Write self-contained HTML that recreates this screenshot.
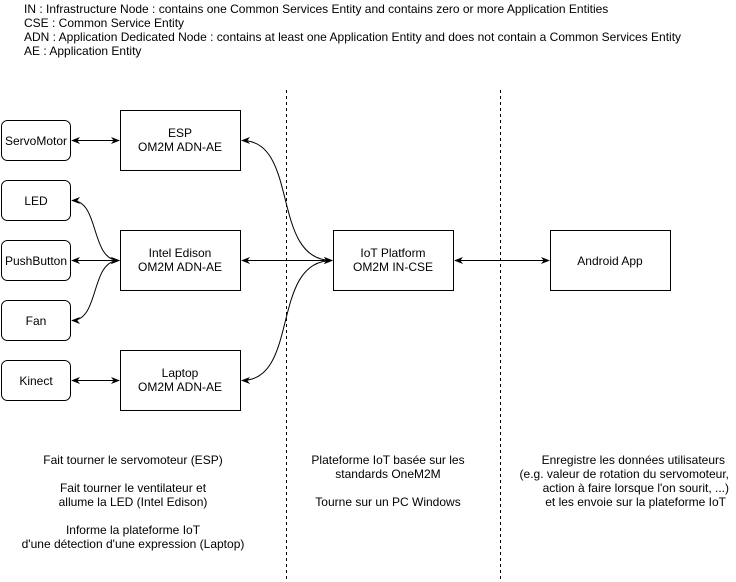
<!DOCTYPE html>
<html><head><meta charset="utf-8"><style>
html,body{margin:0;padding:0;background:#fff;}
svg{display:block;font-family:"Liberation Sans",Arial,sans-serif;font-size:12px;}
</style></head><body>
<svg width="736" height="582" viewBox="0 0 736 582" xmlns="http://www.w3.org/2000/svg">
<defs>
<marker id="a" viewBox="0 0 10 10" refX="9" refY="5" markerWidth="9" markerHeight="9" orient="auto-start-reverse" markerUnits="userSpaceOnUse">
<path d="M0,1 L10,5 L0,9 L3,5 Z" fill="#000"/></marker>
</defs>
<g fill="#000">
<text x="24" y="13">IN : Infrastructure Node : contains one Common Services Entity and contains zero or more Application Entities</text>
<text x="24" y="27">CSE : Common Service Entity</text>
<text x="24" y="41">ADN : Application Dedicated Node : contains at least one Application Entity and does not contain a Common Services Entity</text>
<text x="24" y="55">AE : Application Entity</text>
</g>
<g stroke="#000" stroke-dasharray="3,3" stroke-width="1">
<line x1="286.5" y1="90" x2="286.5" y2="582"/>
<line x1="500.5" y1="90" x2="500.5" y2="582"/>
</g>
<g fill="#fff" stroke="#000" stroke-width="1">
<rect x="1.5" y="120.5" width="69" height="40" rx="6"/>
<rect x="1.5" y="180.5" width="69" height="40" rx="6"/>
<rect x="1.5" y="240.5" width="69" height="40" rx="6"/>
<rect x="1.5" y="300.5" width="69" height="40" rx="6"/>
<rect x="1.5" y="360.5" width="69" height="40" rx="6"/>
<rect x="120.5" y="110.5" width="120" height="60"/>
<rect x="120.5" y="230.5" width="120" height="60"/>
<rect x="120.5" y="350.5" width="120" height="60"/>
<rect x="333.5" y="230.5" width="120" height="60"/>
<rect x="550.5" y="230.5" width="120" height="60"/>
</g>
<g fill="none" stroke="#000" stroke-width="1" marker-start="url(#a)" marker-end="url(#a)">
<line x1="72" y1="140.5" x2="119" y2="140.5"/>
<line x1="72" y1="380.5" x2="119" y2="380.5"/>
<line x1="72" y1="260.5" x2="119" y2="260.5"/>
<path d="M72,200.5 C100,200.5 90,260.5 119,260.5"/>
<path d="M72,320.5 C100,320.5 90,260.5 119,260.5"/>
<line x1="242" y1="260.5" x2="332" y2="260.5"/>
<path d="M242,140.5 C300,140.5 270,260.5 332,260.5"/>
<path d="M242,380.5 C300,380.5 270,260.5 332,260.5"/>
<line x1="455" y1="260.5" x2="549" y2="260.5"/>
</g>
<g fill="#000" text-anchor="middle">
<text x="36" y="145">ServoMotor</text>
<text x="36" y="205">LED</text>
<text x="36" y="265">PushButton</text>
<text x="36" y="325">Fan</text>
<text x="36" y="385">Kinect</text>
<text x="180" y="137">ESP</text><text x="180" y="151">OM2M ADN-AE</text>
<text x="180" y="257">Intel Edison</text><text x="180" y="271">OM2M ADN-AE</text>
<text x="180" y="377">Laptop</text><text x="180" y="391">OM2M ADN-AE</text>
<text x="393" y="257">IoT Platform</text><text x="393" y="271">OM2M IN-CSE</text>
<text x="610" y="265">Android App</text>
<text x="133" y="464">Fait tourner le servomoteur (ESP)</text>
<text x="133" y="492">Fait tourner le ventilateur et</text>
<text x="133" y="506">allume la LED (Intel Edison)</text>
<text x="133" y="534">Informe la plateforme IoT</text>
<text x="133" y="548">d'une détection d'une expression (Laptop)</text>
<text x="388" y="464">Plateforme IoT basée sur les</text>
<text x="388" y="478">standards OneM2M</text>
<text x="388" y="506">Tourne sur un PC Windows</text>
</g>
<g fill="#000" text-anchor="end">
<text x="725" y="464">Enregistre les données utilisateurs</text>
<text x="729" y="478">(e.g. valeur de rotation du servomoteur,</text>
<text x="729" y="492">action à faire lorsque l'on sourit, ...)</text>
<text x="726" y="506">et les envoie sur la plateforme IoT</text>
</g>
</svg>
</body></html>
